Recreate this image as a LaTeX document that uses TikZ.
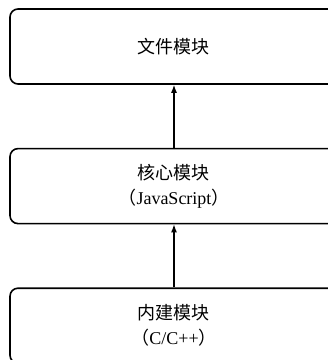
\documentclass[tikz,border=0pt]{standalone}
\usepackage{fontspec}
\setmainfont{Liberation Serif}
\newfontfamily\cjk{Noto Sans CJK SC}
\usetikzlibrary{positioning,arrows.meta}

\begin{document}
\begin{tikzpicture}[node distance=63pt,
				module/.style={draw, line width=1.6pt, rounded corners=8pt, minimum width=328pt, minimum height=75pt, align=center, font=\fontsize{18pt}{25pt}\selectfont},
				link/.style={-{Latex[length=8pt,width=6pt]}, line width=1.2pt}]
				\clip (0,0) rectangle (328pt,-360pt);
				\node (file) [module] at (174pt,-46.5pt) {\cjk 文件模块};
				\node (core) [module, below=of file] {{\cjk 核心模块}\\{\cjk （}JavaScript{\cjk ）}};
				\node (builtin) [module, below=of core] {{\cjk 内建模块}\\{\cjk （}C/C++{\cjk ）}};
				
				\draw [link] (builtin) -- (core);
				\draw [link] (core) -- (file);
			\end{tikzpicture}
\end{document}
